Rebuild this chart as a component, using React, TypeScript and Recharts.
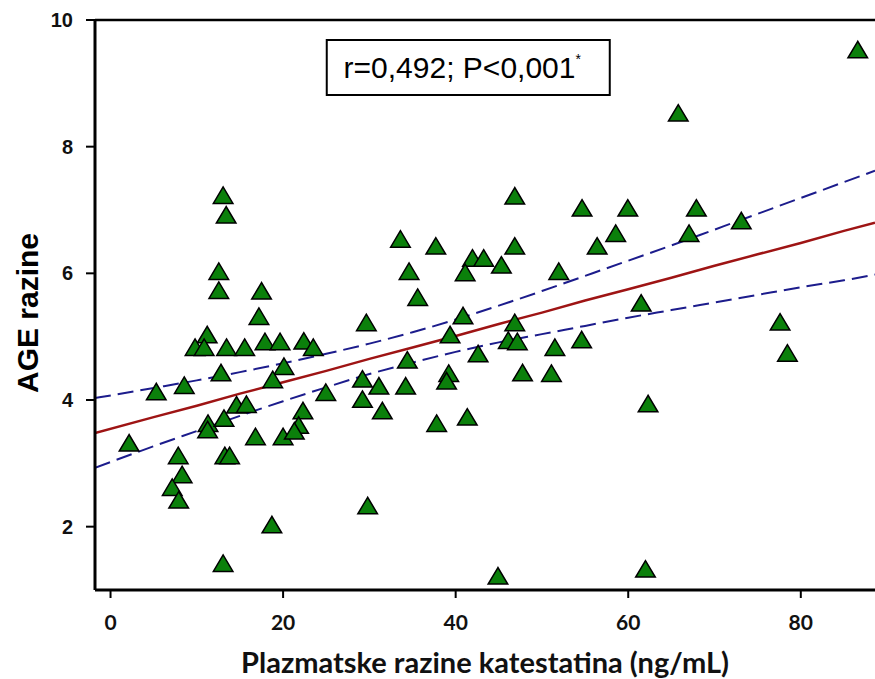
import React from 'react';
import {
  ComposedChart,
  XAxis,
  YAxis,
  Scatter,
  Line,
  ReferenceLine,
  ReferenceArea,
} from 'recharts';

// Katestatin (ng/mL) vs AGE levels
const katestatin = [
  2.15, 5.3, 8.55, 7.85, 8.3, 7.15, 7.9, 13.05, 13.4, 12.55,
  12.55, 17.5, 17.2, 11.2, 9.8, 10.85, 13.45, 15.55, 17.9, 19.65,
  22.4, 23.5, 12.8, 20.1, 18.8, 14.6, 15.75, 22.3, 11.3, 11.25,
  13.15, 16.8, 20.0, 21.8, 21.3, 13.25, 13.8, 18.7, 13.05, 24.95,
  29.2, 31.1, 34.2, 29.2, 31.5, 29.65, 33.6, 34.6, 35.6, 34.4,
  37.7, 37.8, 39.35, 40.85, 39.2, 38.95, 41.35, 41.95, 43.25, 41.1,
  45.3, 42.6, 46.85, 46.85, 46.85, 46.1, 47.15, 47.75, 44.9, 29.8,
  51.5, 51.1, 54.6, 51.95, 54.65, 56.4, 58.55, 59.95, 61.5, 62.3,
  62.0, 65.8, 67.05, 67.9, 73.1, 77.6, 78.45, 86.6,
];
const ageLevels = [
  3.32, 4.13, 4.23, 3.12, 2.82, 2.62, 2.42, 7.23, 6.92, 6.03,
  5.73, 5.72, 5.32, 5.03, 4.83, 4.83, 4.83, 4.83, 4.92, 4.92,
  4.93, 4.83, 4.43, 4.53, 4.32, 3.92, 3.93, 3.83, 3.63, 3.53,
  3.71, 3.42, 3.42, 3.6, 3.51, 3.12, 3.12, 2.03, 1.42, 4.12,
  4.33, 4.22, 4.22, 4.01, 3.83, 5.22, 6.54, 6.03, 5.62, 4.63,
  6.43, 3.63, 5.03, 5.33, 4.42, 4.3, 3.73, 6.24, 6.24, 6.01,
  6.13, 4.73, 6.43, 7.22, 5.22, 4.94, 4.92, 4.43, 1.22, 2.33,
  4.83, 4.42, 4.95, 6.03, 7.03, 6.43, 6.63, 7.03, 5.53, 3.94,
  1.33, 8.53, 6.63, 7.03, 6.83, 5.23, 4.74, 9.53,
];

// Regression line and 95% confidence band
const lineX = [-1.8, 5, 10, 15, 20, 25, 30, 35, 40, 45, 50, 55, 60, 65, 70, 75, 80, 85, 88.6];
const fitY = [3.48, 3.73, 3.91, 4.1, 4.28, 4.46, 4.65, 4.83, 5.01, 5.2, 5.38, 5.57, 5.75, 5.93, 6.12, 6.3, 6.48, 6.67, 6.8];
const upperY = [4.03, 4.19, 4.31, 4.44, 4.58, 4.73, 4.89, 5.07, 5.27, 5.49, 5.72, 5.96, 6.2, 6.44, 6.69, 6.94, 7.19, 7.44, 7.62];
const lowerY = [2.93, 3.27, 3.51, 3.75, 3.98, 4.2, 4.41, 4.59, 4.76, 4.91, 5.04, 5.17, 5.3, 5.42, 5.54, 5.66, 5.78, 5.89, 5.98];

const xTicks = [0, 20, 40, 60, 80];
const yTicks = [2, 4, 6, 8, 10];

const points = katestatin.map((x, i) => ({ x, y: ageLevels[i] }));
const fitLine = lineX.map((x, i) => ({ x, y: fitY[i] }));
const upperLine = lineX.map((x, i) => ({ x, y: upperY[i] }));
const lowerLine = lineX.map((x, i) => ({ x, y: lowerY[i] }));

const Triangle = (props: any) => {
  const { cx, cy } = props;
  if (cx == null || cy == null) return null;
  const pts = `${cx},${cy - 8.5} ${cx - 9.8},${cy + 8} ${cx + 9.8},${cy + 8}`;
  return <polygon points={pts} fill="#0b800b" stroke="#000" strokeWidth={1.5} strokeLinejoin="miter" />;
};

const StatLabel = (props: any) => {
  const vb = props.viewBox || {};
  const cx = vb.x + vb.width / 2;
  const cy = vb.y + vb.height / 2;
  return (
    <text
      x={cx - 6}
      y={cy + 10}
      textAnchor="middle"
      fontFamily="'Liberation Sans', Arial, sans-serif"
      fontSize={30}
      fill="#000"
    >
      r=0,492; P&lt;0,001
      <tspan fontSize={14} dy={-14}>*</tspan>
    </text>
  );
};

export default function App() {
  return (
    <div style={{ position: 'absolute', left: 0, top: 0, width: 875, height: 679, background: '#fff' }}>
      <ComposedChart
        width={875}
        height={679}
        margin={{ top: 20, right: 0, bottom: 0, left: 0 }}
      >
        <XAxis
          type="number"
          dataKey="x"
          domain={[-1.8, 88.6]}
          ticks={xTicks}
          allowDataOverflow
          height={89}
          axisLine={{ stroke: '#000', strokeWidth: 3 }}
          tickLine={{ stroke: '#000', strokeWidth: 2 }}
          tickSize={8}
          tickMargin={17}
          tick={{ fill: '#111', fontSize: 21, fontWeight: 700, fontFamily: 'Lato, sans-serif' }}
          label={{
            value: 'Plazmatske razine katestatina (ng/mL)',
            position: 'insideBottom',
            offset: 6,
            style: { fill: '#111', fontSize: 29, fontWeight: 700, fontFamily: 'Lato, sans-serif' },
          }}
        />
        <YAxis
          type="number"
          dataKey="y"
          domain={[1, 10]}
          ticks={yTicks}
          allowDataOverflow
          width={95}
          axisLine={{ stroke: '#000', strokeWidth: 3 }}
          tickLine={{ stroke: '#000', strokeWidth: 2 }}
          tickSize={9}
          tickMargin={13}
          tick={{ fill: '#111', fontSize: 20, fontWeight: 700, fontFamily: "'Liberation Sans', Arial, sans-serif" }}
          label={{
            value: 'AGE razine',
            angle: -90,
            position: 'insideLeft',
            offset: 27,
            dy: 8,
            style: { textAnchor: 'middle', fill: '#000', fontSize: 30, fontWeight: 700, fontFamily: "'Liberation Sans', Arial, sans-serif" },
          }}
        />
        <ReferenceLine y={10} stroke="#000" strokeWidth={2.5} />
        <ReferenceArea
          x1={25.06}
          x2={57.86}
          y1={8.816}
          y2={9.684}
          fill="#fff"
          fillOpacity={1}
          stroke="#000"
          strokeWidth={2}
          label={(p: any) => <StatLabel {...p} />}
        />
        <Line
          data={upperLine}
          dataKey="y"
          type="monotone"
          dot={false}
          stroke="#1c1c8c"
          strokeWidth={2}
          strokeDasharray="16 7"
          isAnimationActive={false}
        />
        <Line
          data={lowerLine}
          dataKey="y"
          type="monotone"
          dot={false}
          stroke="#1c1c8c"
          strokeWidth={2}
          strokeDasharray="16 7"
          isAnimationActive={false}
        />
        <Line
          data={fitLine}
          dataKey="y"
          type="linear"
          dot={false}
          stroke="#9e1414"
          strokeWidth={2.5}
          isAnimationActive={false}
        />
        <Scatter data={points} shape={Triangle} isAnimationActive={false} />
      </ComposedChart>
    </div>
  );
}
